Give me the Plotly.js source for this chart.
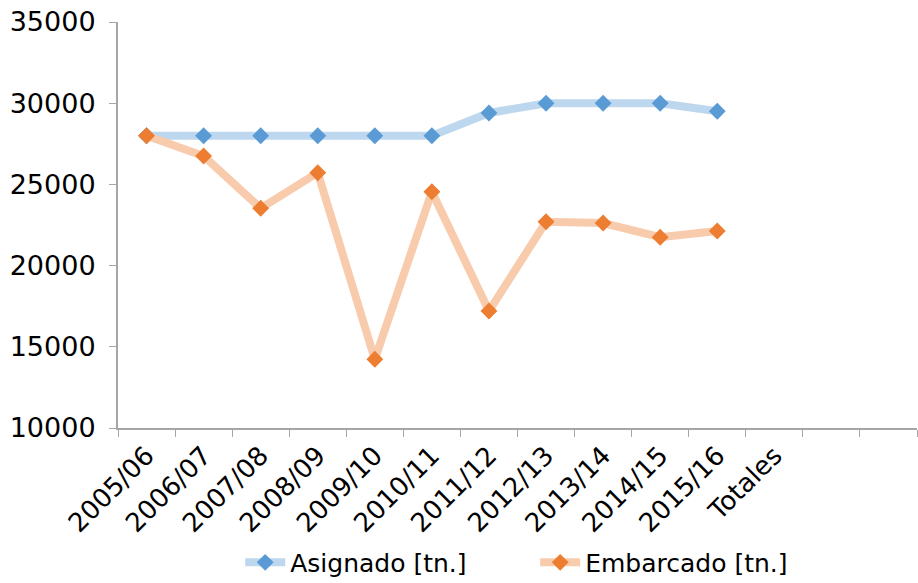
<!DOCTYPE html>
<html>
<head>
<meta charset="utf-8">
<script src="https://cdn.plot.ly/plotly-3.0.1.min.js"></script>
<style>html,body{margin:0;padding:0;background:#fff;}#chart{width:918px;height:583px;}</style>
</head>
<body>
<div id="chart"></div>
<script>
const categories = ["2005/06","2006/07","2007/08","2008/09","2009/10","2010/11","2011/12","2012/13","2013/14","2014/15","2015/16","Totales"," ","  "];
const seasons = ["2005/06","2006/07","2007/08","2008/09","2009/10","2010/11","2011/12","2012/13","2013/14","2014/15","2015/16"];
const asignado = [28000,28000,28000,28000,28000,28000,29400,30000,30000,30000,29500];
const embarcado = [28000,26750,23530,25720,14230,24550,17200,22700,22620,21750,22130];
const yTicks = [10000,15000,20000,25000,30000,35000];

const font = "DejaVu Sans";
const traces = [
  {x: seasons, y: asignado, name: "Asignado [tn.]", type: "scatter", mode: "lines+markers",
   line: {color: "#bdd7ee", width: 8}, marker: {symbol: "diamond", size: 13, color: "#5b9bd5"}},
  {x: seasons, y: embarcado, name: "Embarcado [tn.]", type: "scatter", mode: "lines+markers",
   line: {color: "#f8cbad", width: 8}, marker: {symbol: "diamond", size: 13, color: "#ed7d31"}}
];
const layout = {
  width: 918, height: 583,
  margin: {l: 118, r: 1, t: 22, b: 155, autoexpand: false},
  paper_bgcolor: "#fff", plot_bgcolor: "#fff",
  font: {family: font, size: 26, color: "#000"},
  showlegend: true,
  legend: {orientation: "h", xref: "container", yref: "container", x: 0.583, xanchor: "center",
           y: 0.035, yanchor: "middle", font: {family: font, size: 25, color: "#000"},
           itemwidth: 40, entrywidth: 240, entrywidthmode: "pixels"},
  xaxis: {type: "category", categoryorder: "array", categoryarray: categories,
          range: [-0.5, categories.length - 0.5], tickson: "boundaries", automargin: false,
          tickangle: -45, ticks: "outside", ticklen: 7, tickcolor: "#a6a6a6",
          showline: true, linecolor: "#a6a6a6", linewidth: 2, showgrid: false, zeroline: false,
          tickfont: {family: font, size: 26, color: "#000"}, fixedrange: true},
  yaxis: {range: [10000, 35000], tickvals: yTicks, ticktext: yTicks.map(String), automargin: false,
          ticks: "outside", ticklen: 7, tickcolor: "#a6a6a6",
          showline: true, linecolor: "#a6a6a6", linewidth: 2, showgrid: false, zeroline: false,
          tickfont: {family: font, size: 27, color: "#000"}, ticklabelstandoff: 8}
};
Plotly.newPlot("chart", traces, layout, {displayModeBar: false, staticPlot: true});
</script>
</body>
</html>
